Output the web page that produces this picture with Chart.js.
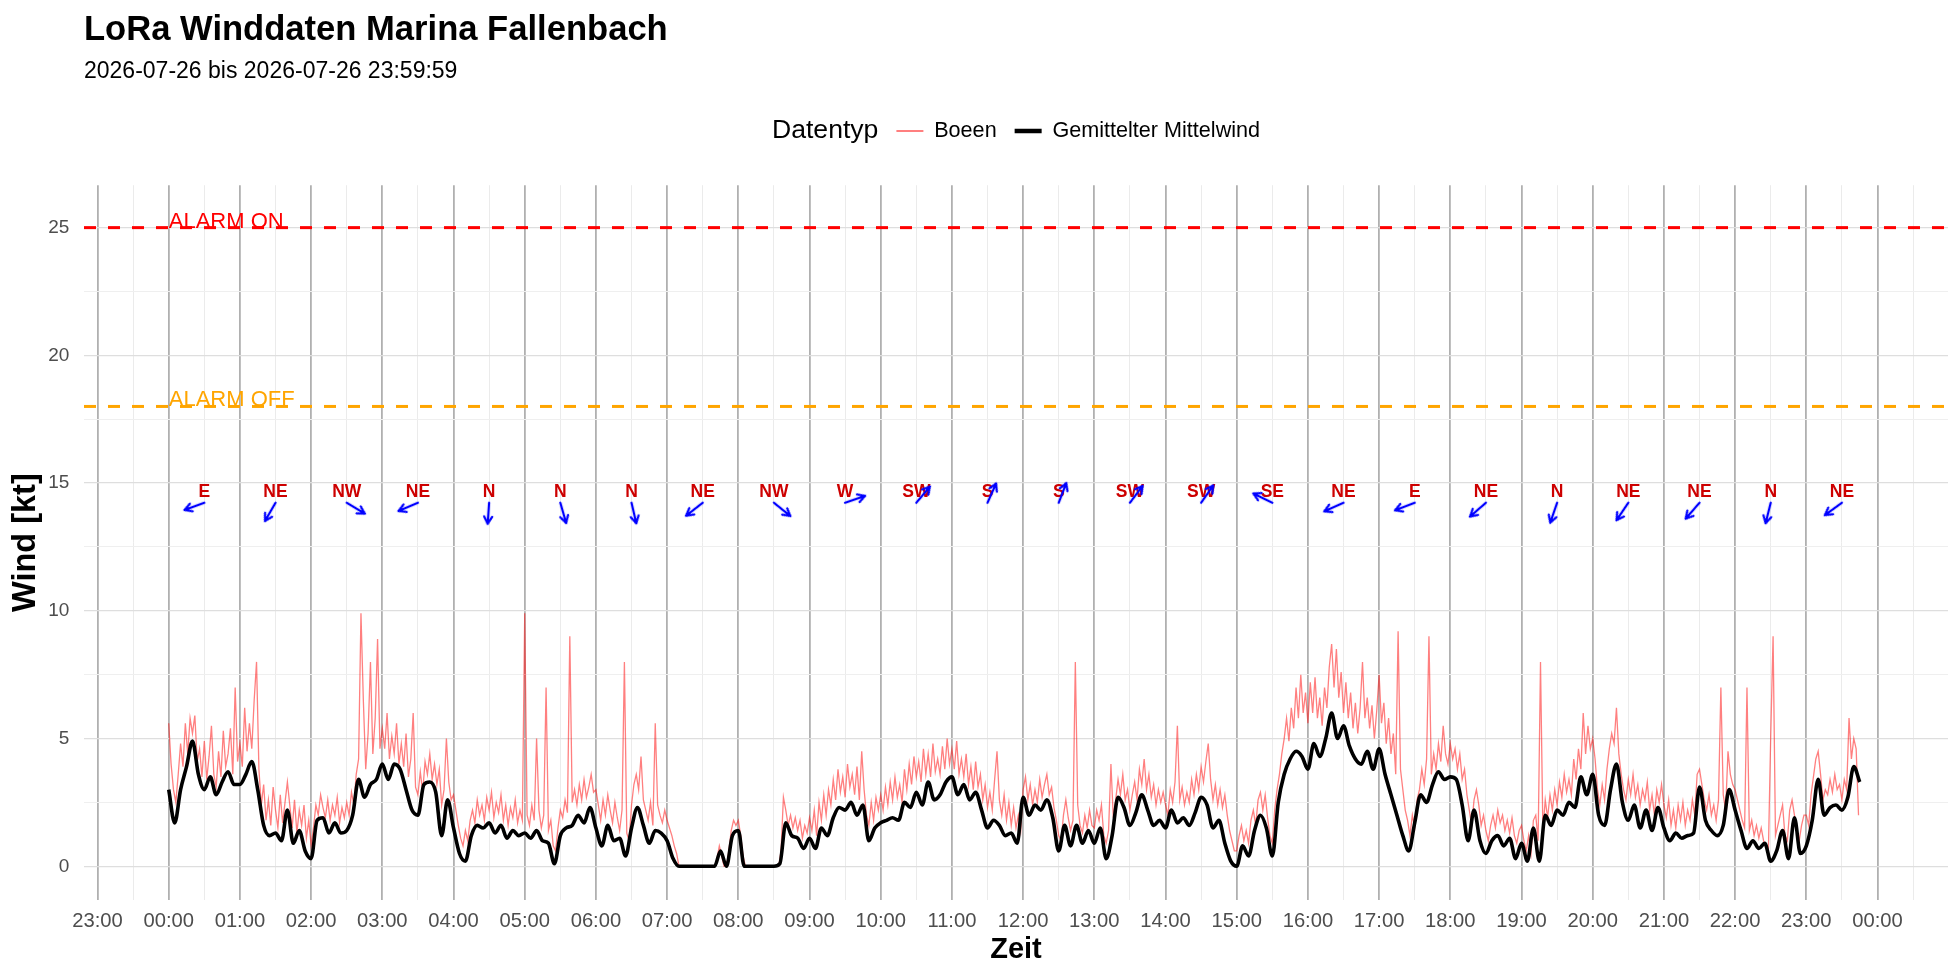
<!DOCTYPE html>
<html>
<head>
<meta charset="utf-8">
<title>LoRa Winddaten Marina Fallenbach</title>
<script src="https://cdn.jsdelivr.net/npm/chart.js@4.4.1/dist/chart.umd.min.js"></script>
<style>
  html, body { margin: 0; background: #fff; }
  #wrap { width: 1960px; height: 980px; }
</style>
</head>
<body>
<div id="wrap"><canvas id="chart"></canvas></div>
<script>
const FONT = "'Liberation Sans', Arial, Helvetica, sans-serif";

// x values are minutes since 2026-07-26 00:00
const hourTicks = [-60, 0, 60, 120, 180, 240, 300, 360, 420, 480, 540, 600, 660,
  720, 780, 840, 900, 960, 1020, 1080, 1140, 1200, 1260, 1320, 1380, 1440];
const hourLabels = ['23:00', '00:00', '01:00', '02:00', '03:00', '04:00', '05:00',
  '06:00', '07:00', '08:00', '09:00', '10:00', '11:00', '12:00', '13:00', '14:00',
  '15:00', '16:00', '17:00', '18:00', '19:00', '20:00', '21:00', '22:00', '23:00', '00:00'];

// Gemittelter Mittelwind, one value every 5 minutes (one row per hour)
const meanStep = 5;
const meanWind = [
  3.0, 1.7, 3.0, 3.9, 4.9, 3.6, 3.0, 3.5, 2.8, 3.3, 3.7, 3.2,
  3.2, 3.6, 4.1, 3.0, 1.6, 1.2, 1.3, 1.0, 2.2, 0.9, 1.4, 0.6,
  0.3, 1.8, 1.9, 1.3, 1.7, 1.3, 1.4, 2.0, 3.4, 2.7, 3.2, 3.4,
  4.0, 3.4, 4.0, 3.8, 3.0, 2.2, 2.0, 3.2, 3.3, 2.9, 1.2, 2.6,
  1.5, 0.5, 0.2, 1.2, 1.6, 1.5, 1.7, 1.3, 1.6, 1.1, 1.4, 1.2,
  1.3, 1.1, 1.4, 1.0, 0.9, 0.1, 1.2, 1.5, 1.6, 2.0, 1.7, 2.3,
  1.5, 0.8, 1.6, 1.0, 1.1, 0.4, 1.5, 2.3, 1.6, 0.9, 1.4, 1.3,
  1.0, 0.3, 0.0, 0.0, 0.0, 0.0, 0.0, 0.0, 0.0, 0.6, 0.0, 1.2,
  1.4, 0.0, 0.0, 0.0, 0.0, 0.0, 0.0, 0.1, 1.7, 1.2, 1.1, 0.7,
  1.1, 0.7, 1.5, 1.2, 1.9, 2.3, 2.2, 2.5, 2.0, 2.4, 1.0, 1.5,
  1.7, 1.8, 1.9, 1.8, 2.5, 2.3, 2.9, 2.4, 3.3, 2.6, 2.8, 3.3,
  3.5, 2.8, 3.2, 2.6, 2.9, 2.2, 1.5, 1.8, 1.6, 1.2, 1.3, 0.9,
  2.7, 2.0, 2.4, 2.2, 2.6, 1.9, 0.6, 1.6, 0.8, 1.6, 0.9, 1.4,
  0.9, 1.5, 0.3, 1.2, 2.7, 2.3, 1.6, 2.1, 2.8, 2.2, 1.6, 1.8,
  1.5, 2.2, 1.7, 1.9, 1.6, 2.1, 2.7, 2.4, 1.5, 1.8, 0.9, 0.2,
  0.0, 0.8, 0.4, 1.4, 2.0, 1.5, 0.4, 2.5, 3.6, 4.2, 4.5, 4.3,
  3.8, 4.8, 4.3, 5.0, 6.0, 5.0, 5.5, 4.7, 4.2, 4.0, 4.5, 3.8,
  4.6, 3.6, 2.8, 2.0, 1.2, 0.6, 1.7, 2.8, 2.5, 3.2, 3.7, 3.4,
  3.5, 3.4, 2.4, 1.0, 2.2, 1.0, 0.5, 1.0, 1.2, 0.8, 1.1, 0.3,
  0.9, 0.2, 1.5, 0.2, 2.0, 1.6, 2.2, 2.0, 2.5, 2.3, 3.5, 2.8,
  3.6, 2.0, 1.6, 3.0, 4.0, 2.5, 1.8, 2.4, 1.5, 2.2, 1.4, 2.3,
  1.5, 1.0, 1.3, 1.1, 1.2, 1.3, 3.1, 1.8, 1.4, 1.2, 1.6, 3.0,
  2.2, 1.4, 0.7, 1.0, 0.7, 0.9, 0.2, 0.6, 1.4, 0.3, 1.9, 0.5,
  0.8, 1.8, 3.4, 2.0, 2.3, 2.4, 2.2, 2.7, 3.9, 3.3, null, null
];

// Boeen, one value every 2 minutes (one row per hour)
const gustStep = 2;
const gusts = [
  5.6, 4.0, 3.0, 2.5, 3.6, 4.8, 3.9, 5.6, 4.4, 5.8, 5.2, 5.9, 4.1, 4.6, 3.5, 4.9, 3.4, 4.3, 5.5, 3.6, 3.1, 4.5, 3.5, 5.3, 3.9, 4.4, 5.4, 3.6, 7.0, 4.1,
  4.8, 3.9, 6.2, 4.5, 5.6, 4.6, 6.5, 8.0, 3.8, 2.4, 3.2, 1.8, 2.6, 1.6, 3.1, 2.2, 1.5, 2.8, 1.7, 2.5, 3.3, 2.4, 1.5, 2.6, 1.3, 2.2, 1.6, 2.4, 1.1, 1.8,
  0.8, 1.5, 2.4, 2.0, 2.8, 2.3, 1.9, 2.6, 1.8, 2.4, 2.0, 2.7, 1.7, 2.3, 1.9, 2.5, 2.0, 2.9, 2.4, 3.6, 4.2, 9.9, 6.5, 3.8, 5.2, 8.0, 4.4, 5.8, 8.9, 4.6,
  5.4, 4.6, 6.0, 4.2, 5.1, 4.4, 5.6, 4.0, 4.8, 3.9, 5.2, 3.5, 4.2, 6.0, 3.1, 2.8, 3.7, 2.9, 4.1, 3.6, 4.4, 3.4, 4.0, 3.2, 3.8, 2.4, 3.0, 5.0, 3.3, 2.6,
  2.8, 2.2, 1.6, 1.1, 0.8, 1.4, 1.0, 1.8, 2.2, 1.7, 2.6, 2.0, 2.4, 1.8, 2.7, 2.2, 2.9, 1.9, 2.5, 2.1, 2.8, 1.8, 2.4, 1.6, 2.3, 1.9, 2.6, 1.7, 2.2, 1.8,
  9.9, 2.0, 1.6, 2.4, 1.8, 5.0, 2.2, 1.5, 2.0, 7.0, 1.4, 1.8, 0.8, 0.6, 1.5, 2.2, 1.9, 2.6, 2.1, 9.0, 2.5, 3.0, 2.4, 3.2, 2.6, 3.4, 2.7, 3.1, 3.6, 2.9,
  3.0, 2.4, 1.8, 2.6, 2.0, 2.8, 2.2, 1.7, 2.5, 1.9, 1.4, 2.2, 8.0, 1.3, 1.0, 2.4, 3.2, 3.6, 3.0, 4.3, 2.6, 2.2, 1.8, 2.5, 1.6, 5.6, 2.4, 2.0, 1.7, 2.2,
  1.8, 1.5, 1.2, 0.8, 0.5, 0.0, 0.0, 0.0, 0.0, 0.0, 0.0, 0.0, 0.0, 0.0, 0.0, 0.0, 0.0, 0.0, 0.0, 0.0, 0.0, 0.3, 0.8, 0.4, 0.0, 0.0, 0.6, 1.4, 1.8, 1.6,
  1.8, 1.2, 0.4, 0.0, 0.0, 0.0, 0.0, 0.0, 0.0, 0.0, 0.0, 0.0, 0.0, 0.0, 0.0, 0.0, 0.0, 0.0, 0.6, 2.7, 2.2, 1.6, 2.0, 1.5, 1.9, 1.4, 1.8, 1.1, 1.6, 1.3,
  1.9, 1.4, 2.2, 1.2, 2.5, 1.8, 2.8, 2.0, 3.0, 2.4, 3.4, 2.6, 3.8, 2.9, 3.5, 2.7, 4.0, 3.1, 3.6, 2.8, 3.9, 2.6, 4.5, 3.0, 2.0, 1.6, 2.5, 1.8, 2.7, 2.2,
  2.8, 2.2, 3.1, 2.4, 3.3, 2.6, 3.5, 2.7, 3.2, 2.5, 3.8, 3.0, 4.0, 3.2, 4.3, 3.5, 4.1, 3.3, 4.6, 3.6, 4.4, 3.5, 4.8, 3.7, 4.2, 3.6, 4.7, 3.8, 5.0, 4.0,
  4.6, 3.8, 4.9, 3.6, 4.2, 3.5, 4.4, 3.2, 3.9, 3.0, 4.1, 3.1, 3.6, 2.6, 3.2, 2.3, 2.9, 2.2, 3.4, 4.5, 2.6, 2.0, 2.8, 1.8, 2.5, 1.6, 2.3, 1.5, 2.0, 1.4,
  3.0, 3.5, 2.6, 3.2, 2.4, 3.0, 2.5, 3.4, 2.7, 3.2, 3.6, 2.8, 3.1, 2.3, 1.8, 1.2, 1.0, 2.0, 2.6, 1.9, 1.4, 1.8, 8.0, 2.4, 1.6, 1.3, 2.0, 1.5, 2.2, 1.6,
  1.5, 2.2, 1.8, 2.4, 1.2, 0.9, 1.4, 4.0, 1.9, 2.6, 3.4, 2.8, 3.6, 2.6, 3.0, 2.2, 2.8, 3.3, 2.6, 3.8, 3.2, 4.2, 3.0, 3.6, 2.7, 3.2, 2.4, 3.0, 2.5, 2.9,
  2.4, 2.0, 3.0, 2.5, 3.3, 5.5, 2.6, 3.1, 2.4, 2.9, 2.5, 3.4, 2.8, 3.6, 3.0, 3.9, 3.3, 4.1, 4.8, 3.4, 2.6, 3.2, 2.4, 3.0, 2.3, 2.8, 2.0, 1.4, 1.0, 0.6,
  0.6, 1.2, 1.6, 1.0, 1.4, 0.9, 1.8, 2.2, 1.6, 2.6, 2.9, 2.2, 2.8, 1.9, 1.2, 0.9, 2.2, 3.0, 3.6, 4.4, 5.0, 5.8, 4.9, 6.2, 5.4, 7.0, 5.8, 7.5, 6.0, 6.8,
  5.6, 7.2, 6.0, 7.4, 5.8, 6.6, 5.5, 7.0, 6.2, 7.8, 8.7, 7.0, 8.5, 6.6, 7.6, 6.0, 7.2, 5.8, 6.8, 5.4, 6.4, 5.2, 6.2, 8.0, 5.8, 6.6, 5.4, 6.3, 5.0, 6.1,
  7.5, 5.6, 6.4, 4.8, 5.8, 4.4, 5.2, 3.6, 9.2, 3.8, 3.0, 2.2, 1.8, 1.2, 2.0, 1.5, 2.6, 3.0, 3.8, 3.2, 4.2, 9.0, 3.6, 4.4, 3.8, 4.8, 4.1, 5.5, 4.4, 4.0,
  4.8, 4.2, 4.6, 3.8, 4.4, 3.4, 3.8, 2.8, 2.2, 1.6, 2.6, 3.0, 2.4, 1.6, 2.0, 1.4, 1.0, 1.6, 2.0, 1.5, 2.2, 1.7, 2.0, 1.4, 1.8, 1.3, 1.9, 1.2, 0.9, 1.4,
  1.6, 1.0, 0.6, 1.2, 0.5, 1.8, 2.0, 1.0, 8.0, 1.4, 2.6, 1.9, 2.8, 2.2, 3.0, 2.4, 3.3, 2.7, 3.6, 2.9, 3.4, 2.8, 4.2, 3.4, 4.6, 3.8, 6.0, 4.4, 5.5, 4.6,
  5.0, 4.2, 3.0, 2.4, 3.2, 2.6, 3.8, 4.6, 5.2, 4.8, 6.2, 4.4, 3.6, 3.0, 2.6, 3.4, 2.8, 3.6, 2.7, 3.2, 2.4, 3.0, 2.6, 3.3, 2.2, 2.8, 2.0, 3.0, 2.5, 3.2,
  2.4, 1.9, 2.6, 1.6, 2.2, 1.5, 2.4, 1.8, 2.5, 1.6, 2.2, 1.8, 2.6, 2.0, 3.6, 3.8, 3.2, 2.6, 2.2, 2.8, 2.0, 2.4, 1.8, 2.6, 7.0, 2.8, 2.2, 4.5, 3.6, 3.2,
  3.0, 2.6, 2.2, 1.8, 1.5, 7.0, 1.4, 1.8, 1.2, 1.6, 1.1, 1.5, 1.0, 0.7, 0.5, 5.1, 9.0, 1.2, 1.6, 2.0, 2.4, 1.2, 1.0, 2.2, 2.6, 2.0, 1.4, 1.0, 1.6, 2.0,
  2.0, 1.6, 2.8, 3.5, 4.2, 4.5, 3.6, 2.6, 3.0, 2.8, 3.4, 2.9, 3.6, 3.0, 3.2, 2.6, 3.4, 3.0, 5.8, 4.2, 5.0, 4.6, 2.0, null, null, null, null, null, null, null
];

// wind direction per hour, shown at hh:30 (degrees the wind comes from)
const dirLabels = ['E', 'NE', 'NW', 'NE', 'N', 'N', 'N', 'NE', 'NW', 'W', 'SW', 'S',
  'S', 'SW', 'SW', 'SE', 'NE', 'E', 'NE', 'N', 'NE', 'NE', 'N', 'NE'];
const dirFrom = [70, 30, 301, 67, 4, 344, 347, 52, 309, 251, 220, 204,
  201, 217, 215, 116, 66, 69, 49, 19, 34, 41, 14, 54];

const alarmNames = ['ALARM ON', 'ALARM OFF'];
const alarmLevels = [25, 18];
const alarmColors = ['#ff0000', '#ffa500'];

const X_MIN = -71.4, X_MAX = 1499.4;
const Y_MIN = -1.32, Y_MAX = 26.66;
const ARROW_Y = 14.23, DIR_LABEL_Y = 14.66;
const LEGEND_TITLE = 'Datentyp';

const toPoints = (arr, step) => arr.map((v, i) => ({ x: i * step, y: v }));

// arrow glyph, tail in the centre, pointing up (rotated per point)
function makeArrow() {
  const c = document.createElement('canvas');
  c.width = 50; c.height = 50;
  const g = c.getContext('2d');
  g.strokeStyle = '#0000ff';
  g.lineWidth = 2.3;
  g.lineCap = 'round';
  g.lineJoin = 'round';
  g.beginPath(); g.moveTo(25, 25); g.lineTo(25, 4); g.stroke();
  g.beginPath(); g.moveTo(21, 11); g.lineTo(25, 4); g.lineTo(29, 11); g.stroke();
  return c;
}
const arrowImg = makeArrow();

const textLayer = {
  id: 'textLayer',
  afterLayout(chart) {
    // keep legend title + keys centred on the panel
    const lg = chart.legend;
    const ctx = chart.ctx;
    ctx.save();
    ctx.font = '26.6px ' + FONT;
    const w = ctx.measureText(LEGEND_TITLE).width;
    ctx.restore();
    lg.left += (w + 18) / 2;
    lg.right += (w + 18) / 2;
  },
  beforeDatasetsDraw(chart) {
    const { ctx, scales: { x, y } } = chart;
    ctx.save();
    ctx.font = 'bold 17.5px ' + FONT;
    ctx.fillStyle = '#cd0000';
    ctx.textAlign = 'center';
    ctx.textBaseline = 'middle';
    dirLabels.forEach((t, i) => {
      ctx.fillText(t, x.getPixelForValue(30 + 60 * i), y.getPixelForValue(DIR_LABEL_Y));
    });
    ctx.restore();
  },
  afterDatasetsDraw(chart) {
    const { ctx, scales: { x, y } } = chart;
    ctx.save();
    ctx.font = '22px ' + FONT;
    ctx.textAlign = 'left';
    ctx.textBaseline = 'alphabetic';
    alarmNames.forEach((t, i) => {
      ctx.fillStyle = alarmColors[i];
      ctx.fillText(t, x.getPixelForValue(0), y.getPixelForValue(alarmLevels[i]));
    });
    ctx.restore();
  },
  afterDraw(chart) {
    const box = chart.legend.legendHitBoxes[0];
    if (!box) return;
    const ctx = chart.ctx;
    ctx.save();
    ctx.font = '26.6px ' + FONT;
    ctx.fillStyle = '#000';
    ctx.textAlign = 'right';
    ctx.textBaseline = 'middle';
    ctx.fillText(LEGEND_TITLE, box.left - 18, box.top + box.height / 2);
    ctx.restore();
  }
};

const legendKeyWidths = [2, 4.5];

const datasets = [
  {
    label: 'Boeen',
    data: toPoints(gusts, gustStep),
    borderColor: 'rgba(255,0,0,0.5)',
    borderWidth: 1.3,
    pointRadius: 0,
    spanGaps: false,
    order: 3
  },
  {
    label: 'Gemittelter Mittelwind',
    data: toPoints(meanWind, meanStep),
    borderColor: '#000',
    borderWidth: 3.6,
    pointRadius: 0,
    cubicInterpolationMode: 'monotone',
    order: 2
  }
];
alarmLevels.forEach((lvl, i) => {
  datasets.push({
    label: alarmNames[i],
    data: [{ x: X_MIN, y: lvl }, { x: X_MAX, y: lvl }],
    borderColor: alarmColors[i],
    borderWidth: 3,
    borderDash: [12, 12],
    pointRadius: 0,
    order: 1
  });
});
datasets.push({
  type: 'scatter',
  label: 'Richtung',
  data: dirFrom.map((d, i) => ({ x: 30 + 60 * i, y: ARROW_Y })),
  pointStyle: arrowImg,
  pointRotation: dirFrom.map(d => (d + 180) % 360),
  pointRadius: 3,
  order: 0
});

Chart.defaults.font.family = FONT;

new Chart(document.getElementById('chart'), {
  type: 'line',
  data: { datasets: datasets },
  options: {
    responsive: true,
    maintainAspectRatio: false,
    animation: false,
    layout: { padding: { left: 0, right: 12, top: 0, bottom: 0 } },
    plugins: {
      title: {
        display: true,
        text: 'LoRa Winddaten Marina Fallenbach',
        align: 'start',
        fullSize: false,
        color: '#000',
        font: { size: 34.6, weight: 'bold' },
        padding: { top: 10, bottom: 0 }
      },
      subtitle: {
        display: true,
        text: '2026-07-26 bis 2026-07-26 23:59:59',
        align: 'start',
        fullSize: false,
        color: '#000',
        font: { size: 23 },
        padding: { top: 6.5, bottom: 16.5 }
      },
      legend: {
        display: true,
        position: 'top',
        align: 'center',
        fullSize: false,
        labels: {
          usePointStyle: true,
          pointStyle: 'line',
          pointStyleWidth: 27,
          padding: 18,
          color: '#000',
          font: { size: 21.6 },
          filter: item => item.datasetIndex < 2,
          sort: (a, b) => a.datasetIndex - b.datasetIndex,
          generateLabels(chart) {
            const items = Chart.defaults.plugins.legend.labels.generateLabels(chart);
            items.forEach(it => {
              if (it.datasetIndex < 2) it.lineWidth = legendKeyWidths[it.datasetIndex];
            });
            return items;
          }
        }
      },
      tooltip: { enabled: false }
    },
    scales: {
      x: {
        type: 'linear',
        min: X_MIN,
        max: X_MAX,
        afterBuildTicks(axis) {
          const t = [];
          for (let v = -60; v <= 1470; v += 30) t.push({ value: v });
          axis.ticks = t;
        },
        afterFit(s) { s.height = 80; },
        ticks: {
          autoSkip: false,
          maxRotation: 0,
          minRotation: 0,
          padding: 9,
          color: '#4d4d4d',
          font: { size: 20.2 },
          callback(v) {
            const i = hourTicks.indexOf(v);
            return i >= 0 ? hourLabels[i] : '';
          }
        },
        grid: {
          drawTicks: false,
          color: c => (c.tick && c.tick.value % 60 === 0) ? '#b0b0b0' : '#ebebeb',
          lineWidth: c => (c.tick && c.tick.value % 60 === 0) ? 1.8 : 1
        },
        border: { display: false },
        title: {
          display: true,
          text: 'Zeit',
          color: '#000',
          font: { size: 29, weight: 'bold' },
          padding: { top: 0, bottom: 13 }
        }
      },
      y: {
        type: 'linear',
        min: Y_MIN,
        max: Y_MAX,
        afterBuildTicks(axis) {
          const t = [];
          for (let v = 0; v <= 25; v += 2.5) t.push({ value: v });
          axis.ticks = t;
        },
        afterFit(s) { s.width = 84; },
        ticks: {
          padding: 14.6,
          color: '#4d4d4d',
          font: { size: 19 },
          callback: v => (v % 5 === 0 ? String(v) : '')
        },
        grid: {
          drawTicks: false,
          color: c => (c.tick && c.tick.value % 5 === 0) ? '#dedede' : '#efefef',
          lineWidth: c => (c.tick && c.tick.value % 5 === 0) ? 1.3 : 1
        },
        border: { display: false },
        title: {
          display: true,
          text: 'Wind [kt]',
          color: '#000',
          font: { size: 32.5, weight: 'bold' },
          padding: { top: 7, bottom: 0 }
        }
      },
      spacer: {
        type: 'linear',
        position: 'top',
        display: true,
        min: 0,
        max: 1,
        afterFit(s) { s.height = 33.5; },
        grid: { display: false, drawTicks: false },
        border: { display: false },
        ticks: { display: false }
      }
    }
  },
  plugins: [textLayer]
});
</script>
</body>
</html>
